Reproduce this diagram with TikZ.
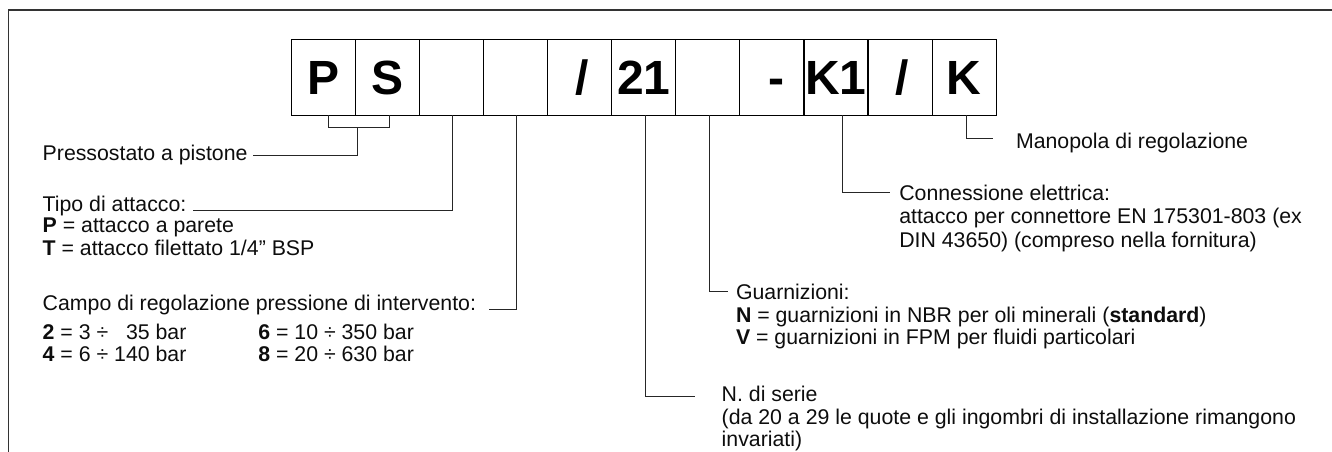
\documentclass[tikz,border=0pt]{standalone}
\usepackage{fontspec}
\setmainfont{Liberation Sans}
\begin{document}
\begin{tikzpicture}[x=1pt,y=-1pt,
  codebox/.style={draw=black, line width=1pt, minimum width=64.03pt, minimum height=75pt,
    inner sep=0pt, outer sep=0pt, text height=34pt, text depth=0pt,
    font=\fontsize{48}{48}\selectfont\bfseries},
  lbl/.style={anchor=base west, inner sep=0pt, outer sep=0pt,
    font=\fontsize{21.3}{24}\selectfont, text=black!95},
  lead/.style={draw=black!85, line width=1pt},
  framel/.style={draw=black!80, line width=1.6pt}]
\useasboundingbox (0,0) rectangle (1332,452);
% frame
\coordinate (fr1) at (8.3,452);
\coordinate (fr2) at (8.3,10);
\coordinate (fr3) at (1332,10);
\draw[framel] (fr1) -- (fr2) -- (fr3);
% code boxes
\node[codebox] (b1)  at (323.7,77.5) {P};
\node[codebox] (b2)  at (387.75,77.5) {S};
\node[codebox] (b3)  at (451.8,77.5) {};
\node[codebox] (b4)  at (515.8,77.5) {};
\node[codebox] (b5)  at (579.9,77.5) {\hspace*{4pt}/};
\node[codebox] (b6)  at (643.9,77.5) {21};
\node[codebox] (b7)  at (707.9,77.5) {};
\node[codebox] (b8)  at (772.0,77.5) {\hspace*{8pt}-};
\node[codebox] (b9)  at (836.0,77.5) {K1};
\node[codebox] (b10) at (900.0,77.5) {\hspace*{4pt}/};
\node[codebox] (b11) at (964.1,77.5) {K};
% texts
\node[lbl] (t1) at (42.7,160) {Pressostato a pistone};
\node[lbl] (t2) at (42.7,211) {Tipo di attacco:};
\node[lbl] (t2a) at (42.7,232.7) {\textbf{P} = attacco a parete};
\node[lbl] (t2b) at (42.7,255) {\textbf{T} = attacco filettato 1/4” BSP};
\node[lbl] (t3) at (42.7,310) {Campo di regolazione pressione di intervento:};
\node[lbl] (t3a) at (42.7,339.3) {\textbf{2} = 3 ÷ \phantom{1}35 bar};
\node[lbl] (t3b) at (42.7,361.7) {\textbf{4} = 6 ÷ 140 bar};
\node[lbl] (t3c) at (258.3,339.3) {\textbf{6} = 10 ÷ 350 bar};
\node[lbl] (t3d) at (258.3,361.7) {\textbf{8} = 20 ÷ 630 bar};
\node[lbl] (t4) at (721.7,401.7) {N. di serie};
\node[lbl] (t4a) at (721.7,424.3) {(da 20 a 29 le quote e gli ingombri di installazione rimangono};
\node[lbl] (t4b) at (721.7,446.5) {invariati)};
\node[lbl] (t5) at (736,299.3) {Guarnizioni:};
\node[lbl] (t5a) at (736,322.7) {\textbf{N} = guarnizioni in NBR per oli minerali (\textbf{standard})};
\node[lbl] (t5b) at (736,344) {\textbf{V} = guarnizioni in FPM per fluidi particolari};
\node[lbl] (t6) at (899.3,200) {Connessione elettrica:};
\node[lbl] (t6a) at (899.3,223.3) {attacco per connettore EN 175301-803 (ex};
\node[lbl] (t6b) at (899.3,247.3) {DIN 43650) (compreso nella fornitura)};
\node[lbl] (t7) at (1016,148.3) {Manopola di regolazione};
% leader coordinates
\coordinate (brL) at (328.3,127.7);
\coordinate (brR) at (389.3,127.7);
\coordinate (brM) at (357.3,127.7);
\coordinate (psEnd) at (253.3,155);
\coordinate (tipoEnd) at (192.7,210.5);
\coordinate (campoEnd) at (489.3,309.3);
\coordinate (serieEnd) at (695,396.7);
\coordinate (guarEnd) at (728.3,291.7);
\coordinate (connEnd) at (890,192.3);
\coordinate (manoEnd) at (993.3,138.3);
% leaders
\draw[lead] (b1.south -| brL) -- (brL) -- (brR) -- (b2.south -| brR);
\draw[lead] (brM) |- (psEnd);
\draw[lead] ([xshift=0.9pt]b3.south) |- (tipoEnd);
\draw[lead] ([xshift=0.2pt]b4.south) |- (campoEnd);
\draw[lead] ([xshift=1.8pt]b6.south) |- (serieEnd);
\draw[lead] ([xshift=1.4pt]b7.south) |- (guarEnd);
\draw[lead] ([xshift=6.7pt]b9.south) |- (connEnd);
\draw[lead] ([xshift=1.9pt]b11.south) |- (manoEnd);
\end{tikzpicture}
\end{document}
